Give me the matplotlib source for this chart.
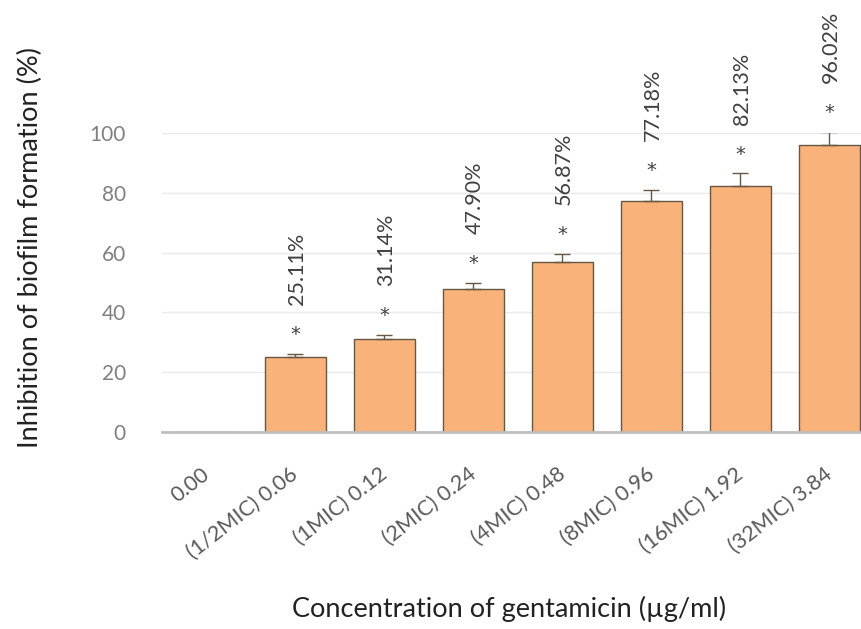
import matplotlib
matplotlib.use("Agg")
import matplotlib.pyplot as plt
import matplotlib.transforms as mtransforms
import numpy as np

categories = ["0.00", "(1/2MIC) 0.06", "(1MIC) 0.12", "(2MIC) 0.24", "(4MIC) 0.48",
              "(8MIC) 0.96", "(16MIC) 1.92", "(32MIC) 3.84"]
values = [0.0, 25.11, 31.14, 47.90, 56.87, 77.18, 82.13, 96.02]
errors = [0.0, 1.1, 1.3, 2.0, 2.7, 3.9, 4.4, 4.4]
labels = ["", "25.11%", "31.14%", "47.90%", "56.87%", "77.18%", "82.13%", "96.02%"]
stars = ["", "*", "*", "*", "*", "*", "*", "*"]

plt.rcParams['font.family'] = ['Lato', 'DejaVu Sans']

fig = plt.figure(figsize=(8.62, 6.29), dpi=100)
W, H = 862, 629
left, right = 162, 874
bottom_px, top_px = 432, 133
ax = fig.add_axes([left / W, 1 - bottom_px / H, (right - left) / W, (bottom_px - top_px) / H])

x = np.arange(len(categories))
ax.bar(x, values, width=0.685, color="#F8B27A", edgecolor="#675843", linewidth=1.0, zorder=3)
for xi, v, e in zip(x, values, errors):
    if e > 0:
        ax.errorbar(xi, v, yerr=[[0], [e]], fmt='none', ecolor="#675843", elinewidth=1.0,
                    capsize=6, capthick=1.0, zorder=4)

for xi, v, e, s, lab in zip(x, values, errors, stars, labels):
    if s:
        ax.annotate(s, (xi, v + e), xytext=(0, 7), textcoords="offset points",
                    ha="center", va="bottom", fontsize=14, color="#404040",
                    family="DejaVu Sans", annotation_clip=False)
    if lab:
        ax.annotate(lab, (xi, v + e), xytext=(1, 35), textcoords="offset points",
                    ha="center", va="bottom", rotation=90, fontsize=15.5, color="#404040",
                    annotation_clip=False)

ax.set_xlim(-0.5, len(categories) - 0.5)
ax.set_ylim(0, 100)
ax.set_yticks([0, 20, 40, 60, 80, 100])
ax.yaxis.grid(True, color="#EAEAEA", linewidth=1.0, zorder=0)
ax.set_axisbelow(True)
for sp in ["top", "right", "left"]:
    ax.spines[sp].set_visible(False)
ax.spines["bottom"].set_color("#BFBFBF")
ax.spines["bottom"].set_linewidth(2)
ax.spines["bottom"].set_zorder(5)
ax.tick_params(axis="y", length=0, pad=26, labelsize=15, labelcolor="#808080")
ax.tick_params(axis="x", length=0, pad=23, labelsize=15.5, labelcolor="#595959")
ax.set_xticks(x)
ax.set_xticklabels(categories, rotation=38, ha="right", va="top", rotation_mode="anchor")
shift = mtransforms.ScaledTranslation(-6 / 100, 0, fig.dpi_scale_trans)
for t in ax.get_xticklabels():
    t.set_transform(t.get_transform() + shift)

fig.text(30 / W, 1 - 248 / H, "Inhibition of biofilm formation (%)", rotation=90,
         ha="center", va="center", fontsize=19.5, color="#222222")
fig.text(509 / W, 1 - 609 / H, "Concentration of gentamicin (µg/ml)",
         ha="center", va="center", fontsize=19.5, color="#222222")

fig.savefig("out.png", dpi=100)
